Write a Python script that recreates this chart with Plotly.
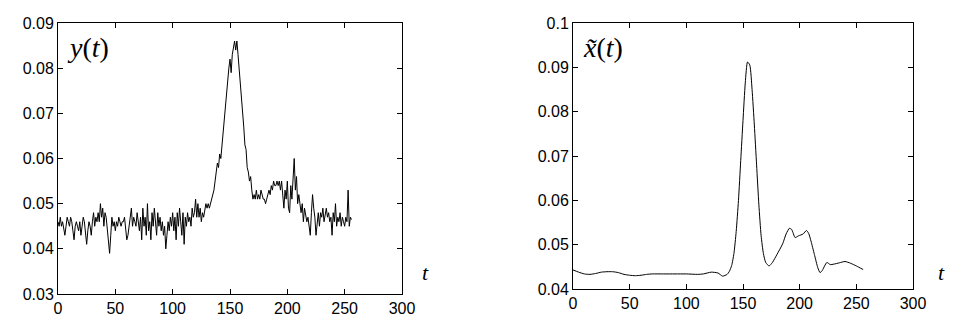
import plotly.graph_objects as go

# Left panel: noisy observed signal y(t), t = 0..256
y_t = list(range(0, 257))
y_vals = [
    0.046, 0.045, 0.047, 0.045, 0.046, 0.044, 0.043, 0.045, 0.047, 0.046,
    0.045, 0.047, 0.046, 0.044, 0.042, 0.045, 0.046, 0.045, 0.044, 0.046,
    0.043, 0.045, 0.047, 0.046, 0.043, 0.041, 0.044, 0.046, 0.045, 0.043,
    0.046, 0.048, 0.045, 0.047, 0.046, 0.048, 0.046, 0.050, 0.047, 0.049,
    0.045, 0.048, 0.047, 0.044, 0.042, 0.039, 0.043, 0.047, 0.045, 0.046,
    0.044, 0.046, 0.045, 0.047, 0.046, 0.045, 0.046, 0.046, 0.047, 0.045,
    0.042, 0.043, 0.045, 0.046, 0.049, 0.045, 0.047, 0.046, 0.045, 0.048,
    0.046, 0.044, 0.047, 0.042, 0.049, 0.045, 0.047, 0.043, 0.050, 0.044,
    0.046, 0.042, 0.048, 0.045, 0.049, 0.046, 0.043, 0.048, 0.045, 0.047,
    0.044, 0.046, 0.043, 0.045, 0.040, 0.043, 0.046, 0.044, 0.047, 0.045,
    0.048, 0.044, 0.047, 0.042, 0.048, 0.045, 0.049, 0.046, 0.043, 0.048,
    0.041, 0.047, 0.045, 0.048, 0.046, 0.047, 0.045, 0.049, 0.047, 0.048,
    0.051, 0.047, 0.050, 0.047, 0.049, 0.046, 0.048, 0.047, 0.049, 0.050,
    0.049, 0.050, 0.049, 0.050, 0.051, 0.052, 0.053, 0.055, 0.057, 0.059,
    0.058, 0.061, 0.060, 0.063, 0.065, 0.068, 0.071, 0.074, 0.078, 0.080,
    0.082, 0.079, 0.083, 0.085, 0.086, 0.084, 0.086, 0.083, 0.080, 0.078,
    0.075, 0.071, 0.067, 0.063, 0.062, 0.058, 0.057, 0.055, 0.056, 0.053,
    0.051, 0.052, 0.051, 0.053, 0.051, 0.052, 0.051, 0.053, 0.052, 0.051,
    0.051, 0.050, 0.051, 0.052, 0.053, 0.052, 0.054, 0.053, 0.055, 0.054,
    0.054, 0.055, 0.054, 0.055, 0.053, 0.055, 0.052, 0.049, 0.053, 0.051,
    0.055, 0.049, 0.048, 0.054, 0.051, 0.055, 0.060, 0.053, 0.056, 0.050,
    0.052, 0.050, 0.048, 0.050, 0.046, 0.049, 0.047, 0.046, 0.047, 0.045,
    0.043, 0.048, 0.052, 0.049, 0.047, 0.043, 0.046, 0.048, 0.045, 0.048,
    0.047, 0.049, 0.046, 0.048, 0.049, 0.047, 0.048, 0.046, 0.047, 0.043,
    0.048, 0.046, 0.050, 0.045, 0.047, 0.046, 0.048, 0.045, 0.047, 0.046,
    0.045, 0.047, 0.046, 0.053, 0.045, 0.047, 0.0465,
]

# Right panel: smooth estimate x~(t)
x_t = [0, 5, 10, 15, 20, 25, 30, 35, 40, 45, 50, 55, 60, 65, 70, 80, 90, 100,
       110, 115, 122, 128, 132, 136, 138, 140, 142, 144, 146, 148, 150, 152,
       154, 156, 158, 160, 162, 164, 166, 168, 170, 173, 176, 180, 185, 188,
       191, 193, 196, 199, 203, 206, 208, 210, 213, 216, 218, 220, 222, 224,
       227, 230, 235, 240, 245, 250, 256]
x_vals = [0.0443, 0.0438, 0.0434, 0.0433, 0.0435, 0.0438, 0.0439, 0.0439,
          0.0437, 0.0433, 0.0431, 0.0430, 0.0431, 0.0433, 0.0434, 0.0434,
          0.0434, 0.0434, 0.0433, 0.0434, 0.0438, 0.0436, 0.0429, 0.0433,
          0.0440, 0.0453, 0.0480, 0.0530, 0.0600, 0.0690, 0.0780, 0.0865,
          0.0912, 0.0905, 0.0850, 0.0770, 0.0680, 0.0590, 0.0520, 0.0480,
          0.0460, 0.0452, 0.0460, 0.0478, 0.0502, 0.0524, 0.0537, 0.0534,
          0.0516, 0.0520, 0.0524, 0.0532, 0.0525, 0.0508, 0.0478, 0.0448,
          0.0437, 0.0442, 0.0452, 0.0460, 0.0455, 0.0456, 0.0459, 0.0462,
          0.0458, 0.0452, 0.0444]

x_ticks = [0, 50, 100, 150, 200, 250, 300]
left_yticks = [0.03, 0.04, 0.05, 0.06, 0.07, 0.08, 0.09]
right_yticks = [0.04, 0.05, 0.06, 0.07, 0.08, 0.09, 0.1]

W, H = 954, 331
tick_font = dict(family="Liberation Sans, Arial, sans-serif", size=16, color="black")
serif = "Liberation Serif, Times New Roman, serif"

fig = go.Figure()
fig.add_trace(go.Scatter(x=y_t, y=y_vals, mode="lines",
                         line=dict(color="black", width=1),
                         xaxis="x", yaxis="y", showlegend=False))
fig.add_trace(go.Scatter(x=x_t, y=x_vals, mode="lines",
                         line=dict(color="black", width=1, shape="spline", smoothing=0.6),
                         xaxis="x2", yaxis="y2", showlegend=False))

axis_common = dict(showline=True, linecolor="black", linewidth=1, mirror="ticks",
                   ticks="inside", ticklen=5, tickcolor="black", tickwidth=1,
                   showgrid=False, zeroline=False, tickfont=tick_font,
                   automargin=False)

fig.update_layout(
    template="none",
    width=W, height=H,
    margin=dict(l=0, r=0, t=0, b=0, pad=0),
    paper_bgcolor="white", plot_bgcolor="white",
    xaxis=dict(domain=[58 / W, 402 / W], range=[0, 300], tickvals=x_ticks,
               ticktext=[str(v) for v in x_ticks], anchor="y", **axis_common),
    yaxis=dict(domain=[37 / H, 308 / H], range=[0.03, 0.09], tickvals=left_yticks,
               ticktext=["%.2f" % v for v in left_yticks], anchor="x", **axis_common),
    xaxis2=dict(domain=[573 / W, 913 / W], range=[0, 300], tickvals=x_ticks,
                ticktext=[str(v) for v in x_ticks], anchor="y2", **axis_common),
    yaxis2=dict(domain=[42 / H, 308 / H], range=[0.04, 0.1], tickvals=right_yticks,
                ticktext=["%.2f" % v if v < 0.1 else "0.1" for v in right_yticks],
                anchor="x2", **axis_common),
)

ann = dict(xref="paper", yref="paper", showarrow=False, xanchor="center", yanchor="middle")
fig.add_annotation(x=88 / W, y=1 - 47 / H, text="<i>y</i>(<i>t</i>)",
                   font=dict(family=serif, size=28, color="black"), **ann)
fig.add_annotation(x=603 / W, y=1 - 47 / H, text="<i>x\u0303</i>(<i>t</i>)",
                   font=dict(family=serif, size=28, color="black"), **ann)
fig.add_annotation(x=425 / W, y=1 - 272 / H, text="<i>t</i>",
                   font=dict(family=serif, size=22, color="black"), **ann)
fig.add_annotation(x=941 / W, y=1 - 272 / H, text="<i>t</i>",
                   font=dict(family=serif, size=22, color="black"), **ann)

fig.write_html("out.html", config={"displayModeBar": False},
               post_script="document.body.style.margin='0px';")
